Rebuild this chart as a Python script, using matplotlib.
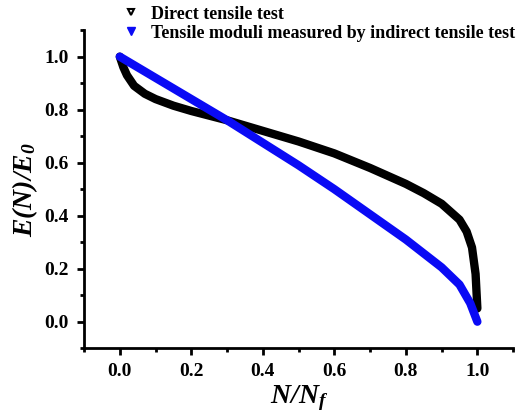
import matplotlib
matplotlib.use("Agg")
import matplotlib.pyplot as plt
from matplotlib.lines import Line2D
from matplotlib.ticker import MultipleLocator

# Data
direct_x = [0.0, 0.01, 0.02, 0.04, 0.07, 0.10, 0.15, 0.20, 0.30, 0.40, 0.50,
            0.60, 0.70, 0.80, 0.85, 0.90, 0.95, 0.97, 0.985, 0.995, 1.0]
direct_y = [1.0, 0.96, 0.93, 0.89, 0.86, 0.84, 0.815, 0.795, 0.76, 0.72, 0.68,
            0.635, 0.58, 0.52, 0.485, 0.445, 0.385, 0.34, 0.28, 0.18, 0.05]
indirect_x = [0.0, 0.10, 0.20, 0.30, 0.40, 0.50, 0.60, 0.70, 0.80, 0.90, 0.95, 0.98, 1.0]
indirect_y = [1.0, 0.92, 0.84, 0.76, 0.675, 0.59, 0.50, 0.405, 0.31, 0.205, 0.14, 0.07, 0.0]

labels = ["Direct tensile test", "Tensile moduli measured by indirect tensile test"]
x_ticks = [0.0, 0.2, 0.4, 0.6, 0.8, 1.0]
y_ticks = [0.0, 0.2, 0.4, 0.6, 0.8, 1.0]

plt.rcParams['font.family'] = ['Liberation Serif', 'DejaVu Serif']
plt.rcParams['font.weight'] = 'bold'
plt.rcParams['mathtext.fontset'] = 'custom'
plt.rcParams['mathtext.rm'] = 'Liberation Serif:italic:bold'
plt.rcParams['mathtext.it'] = 'Liberation Serif:italic:bold'
plt.rcParams['mathtext.bf'] = 'Liberation Serif:italic:bold'

fig = plt.figure(figsize=(5.22, 4.19), dpi=100)
ax = fig.add_axes([0.161, 0.169, 0.822, 0.759])

ax.plot(direct_x, direct_y, color='black', lw=6, solid_capstyle='round', zorder=2)
ax.plot(indirect_x, indirect_y, color='#0a0af5', lw=6, solid_capstyle='round', zorder=3)

ax.set_xlim(-0.1, 1.1)
ax.set_ylim(-0.1, 1.1)
ax.set_xticks(x_ticks)
ax.set_yticks(y_ticks)
ax.set_xticklabels([f"{v:.1f}" for v in x_ticks])
ax.set_yticklabels([f"{v:.1f}" for v in y_ticks])
ax.xaxis.set_minor_locator(MultipleLocator(0.1))
ax.yaxis.set_minor_locator(MultipleLocator(0.1))
ax.tick_params(which='major', direction='out', length=5, width=2, labelsize=14, pad=6)
ax.tick_params(which='minor', direction='out', length=3, width=2)
for lab in ax.get_xticklabels() + ax.get_yticklabels():
    lab.set_fontweight('bold')

for s in ['top', 'right']:
    ax.spines[s].set_visible(False)
for s in ['left', 'bottom']:
    ax.spines[s].set_linewidth(2)

ax.set_xlabel(r"$N/N_f$", fontsize=20, labelpad=2)
ax.set_ylabel(r"$E(N)/E_0$", fontsize=20, labelpad=3)

handles = [Line2D([], [], ls='none', marker='v', ms=5, mfc='white', mec='black', mew=1.5),
           Line2D([], [], ls='none', marker='v', ms=6, mfc='#0a0af5', mec='#0a0af5')]
fig.legend(handles, labels, loc='upper left', bbox_to_anchor=(0.2, 1.025),
           frameon=False, prop={'family': 'Liberation Serif', 'weight': 'bold', 'size': 13},
           handletextpad=0.5, labelspacing=0.1, handlelength=1.2)

fig.savefig("out.png", dpi=100)
